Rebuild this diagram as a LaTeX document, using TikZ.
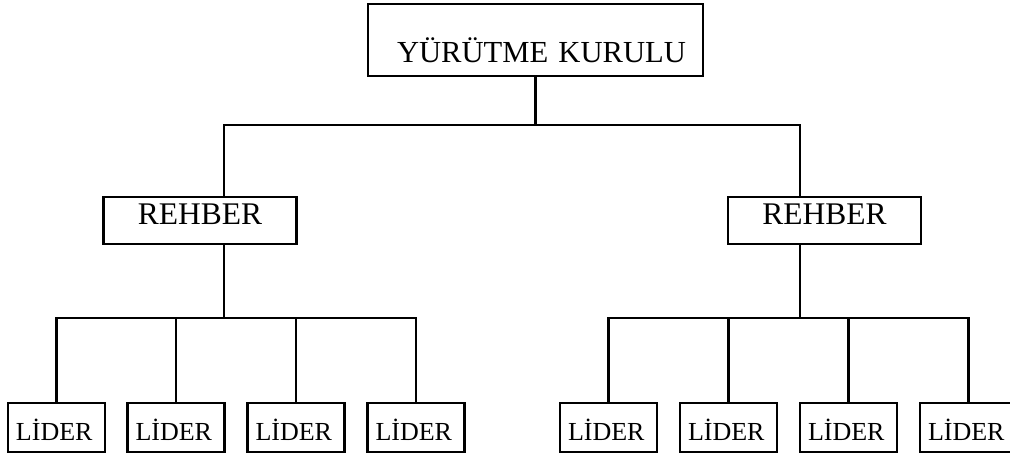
\documentclass[tikz,border=0pt]{standalone}
\usepackage{fontspec}
\setmainfont{Liberation Serif}
\begin{document}
\begin{tikzpicture}[x=1pt,y=-1pt,
  ln/.style={line width=2.2pt},
  box/.style={draw,line width=2.2pt,inner ysep=0pt},
  topbox/.style={box,text width=311pt,inner xsep=12pt,align=left,
     text height=59pt,text depth=13pt,font=\fontsize{30.6}{31}\selectfont},
  rehbox/.style={box,minimum width=193pt,inner xsep=0pt,align=center,
     text height=28pt,text depth=19pt,font=\fontsize{31.5}{32}\selectfont},
  lidbox/.style={box,text width=81pt,inner xsep=8pt,align=left,
     text height=37pt,text depth=12pt,font=\fontsize{26}{26}\selectfont}]
\useasboundingbox (0,0) rectangle (1010,454);
\clip (0,0) rectangle (1010,454);
\node[topbox] (top) at (535.5,40) {\hspace*{17pt}\mbox{YÜRÜTME KURULU}};
\node[rehbox] (r1) at (200,220.5) {REHBER};
\node[rehbox] (r2) at (824.5,220.5) {REHBER};
\foreach \i/\x in {1/56.5,2/176,3/296,4/416}{
  \node[lidbox] (a\i) at (\x,427.5) {LİDER};}
\foreach \i/\x in {1/608.5,2/728.5,3/848.5,4/968.5}{
  \node[lidbox] (b\i) at (\x,427.5) {LİDER};}
% top level
\draw[ln] (top.south) -- ++(0,48) coordinate (hub);
\draw[ln] ([xshift=24pt]r1.north) |- (hub) -| ([xshift=-24.5pt]r2.north);
% left group
\draw[ln] ([xshift=24pt]r1.south) -- ++(0,73) coordinate (bl);
\draw[ln] (a1.north) |- (bl) -| (a4.north);
\draw[ln] (a2.north) -- (a2.north |- bl);
\draw[ln] (a3.north) -- (a3.north |- bl);
% right group
\draw[ln] ([xshift=-24.5pt]r2.south) -- ++(0,73) coordinate (br);
\draw[ln] (b1.north) |- (br) -| (b4.north);
\draw[ln] (b2.north) -- (b2.north |- br);
\draw[ln] (b3.north) -- (b3.north |- br);
\end{tikzpicture}
\end{document}
